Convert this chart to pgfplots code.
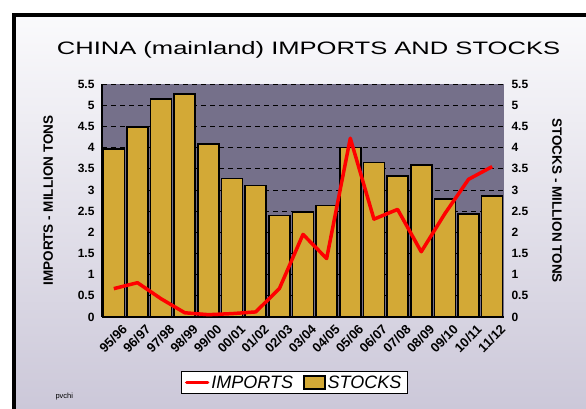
\documentclass[border=0pt]{standalone}
\usepackage{pgfplots}
\pgfplotsset{compat=1.18}
\usepackage{graphicx}
\usepackage{fontspec}
\setmainfont{Liberation Sans}
\definecolor{plotbg}{RGB}{117,112,138}
\definecolor{gold}{RGB}{211,169,54}
\definecolor{bgtop}{RGB}{250,250,252}
\definecolor{bgbot}{RGB}{204,200,217}
\begin{document}
\begin{tikzpicture}[x=1pt,y=1pt]
\clip (0,0) rectangle (586,408);
\fill[white] (0,0) rectangle (586,408);
\shade[top color=bgtop, bottom color=bgbot] (14,0) rectangle (586,393);
\draw[line width=4.5pt, line join=miter] (14,-5) -- (14,393) -- (600,393);
\node[font=\fontsize{18}{20}\selectfont] at (308.5,358) {\scalebox{1.42}[1]{CHINA (mainland) IMPORTS AND STOCKS}};
\node[font=\fontsize{7.5}{8}\selectfont, anchor=west] at (52,11) {pvchi};
\begin{axis}[
  at={(102pt,91pt)}, anchor=south west,
  scale only axis, width=402pt, height=233pt,
  xmin=-0.5, xmax=16.5, ymin=0, ymax=5.5,
  ytick={0,0.5,...,5.5},
  xtick={0,...,16},
  xticklabels={95/96,96/97,97/98,98/99,99/00,00/01,01/02,02/03,03/04,04/05,05/06,06/07,07/08,08/09,09/10,10/11,11/12},
  axis x line*=bottom, axis y line*=left,
  axis line style={line width=1.5pt, black},
  major tick length=0pt,
  axis background/.style={fill=plotbg},
  ymajorgrids, grid style={black, line width=0.8pt, dash pattern=on 5pt off 4pt},
  /pgf/number format/assume math mode=true,
  tick label style={font=\bfseries\fontsize{12}{12}\selectfont},
  yticklabel style={xshift=-4pt},
  xticklabel style={font=\bfseries\fontsize{13}{13}\selectfont, rotate=45, anchor=east, inner sep=0.5pt, xshift=1pt, yshift=-15pt},
  ylabel={IMPORTS - MILLION TONS},
  ylabel style={font=\bfseries\fontsize{13.5}{14}\selectfont, at={(axis description cs:-0.134,0.5)}, anchor=center},
  legend style={at={(axis description cs:0.478,-0.281)}, anchor=center, legend columns=2, draw=black, line width=0.8pt, fill=white, font=\itshape\fontsize{18}{18}\selectfont, inner ysep=2pt, inner xsep=4pt, /tikz/every even column/.append style={column sep=8pt}},
]
\addlegendimage{legend image code/.code={\draw[red, line width=3.5pt, line cap=round] (0pt,0pt) -- (21pt,0pt);}}
\addlegendentry{IMPORTS}
\addplot[ybar, bar width=21pt, fill=gold, draw=black, line width=1.6pt,
  legend image code/.code={\draw[fill=gold, draw=black, line width=1.6pt] (0pt,-6.5pt) rectangle (21pt,6.5pt);}]
  coordinates {(0,3.97) (1,4.49) (2,5.14) (3,5.27) (4,4.09) (5,3.27) (6,3.10) (7,2.40) (8,2.48) (9,2.63) (10,4.00) (11,3.65) (12,3.33) (13,3.59) (14,2.79) (15,2.43) (16,2.85)};
\addlegendentry{STOCKS}
\addplot[red, line width=3.5pt, line join=round, no markers, forget plot]
  coordinates {(0,0.67) (1,0.81) (2,0.43) (3,0.10) (4,0.055) (5,0.08) (6,0.12) (7,0.67) (8,1.95) (9,1.38) (10,4.22) (11,2.31) (12,2.54) (13,1.54) (14,2.44) (15,3.25) (16,3.55)};
\end{axis}
\begin{axis}[
  at={(102pt,91pt)}, anchor=south west,
  scale only axis, width=402pt, height=233pt,
  xmin=-0.5, xmax=16.5, ymin=0, ymax=5.5,
  ytick={0,0.5,...,5.5},
  axis x line=none, axis y line*=right,
  y axis line style={draw=none},
  major tick length=0pt,
  /pgf/number format/assume math mode=true,
  tick label style={font=\bfseries\fontsize{12}{12}\selectfont},
  yticklabel style={xshift=4pt},
  ylabel={STOCKS - MILLION TONS},
  ylabel style={font=\bfseries\fontsize{13.5}{14}\selectfont, at={(axis description cs:1.132,0.5)}, anchor=center, rotate=180},
]
\end{axis}
\end{tikzpicture}
\end{document}
